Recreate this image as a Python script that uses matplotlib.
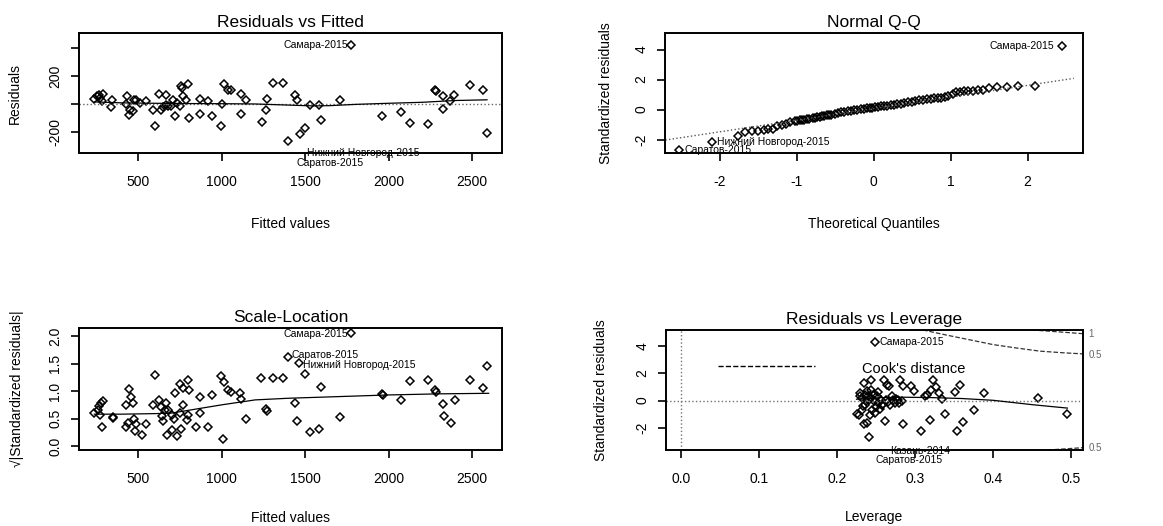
import matplotlib
matplotlib.use("Agg")
import matplotlib.pyplot as plt

plt.rcParams['font.family'] = ['Liberation Sans', 'DejaVu Sans']
plt.rcParams['axes.unicode_minus'] = False

# Residuals vs Fitted
fitted1 = [236, 254, 264, 270, 280, 286, 344, 338, 430, 426, 446, 450, 466, 476, 486,
           510, 544, 586, 602, 622, 636, 650, 664, 666, 680, 694, 710, 718, 730, 750,
           754, 764, 770, 786, 798, 806, 870, 870, 920, 942, 996, 1000, 1016, 1040, 1056,
           1114, 1114, 1146, 1240, 1264, 1274, 1310, 1370, 1400, 1436, 1450, 1466, 1496,
           1530, 1584, 1596, 1706, 1774, 1960, 2076, 2130, 2238, 2280, 2282, 2326, 2326,
           2370, 2394, 2486, 2564, 2590]
resid1 = [38, 55, 62, 43, 19, 72, 31, -22, 55, 0, -77, -41, -53, 26, 31,
          7, 24, -46, -158, 72, -41, -22, 67, -5, -17, -12, 31, -84, 7, -17,
          127, 115, 55, 31, 144, -101, 38, -72, 19, -84, -161, 2, 144, 103, 98,
          72, -72, 31, -132, -41, 38, 151, 151, -264, 67, 26, -214, -173,
          -10, -7, -118, 31, 422, -84, -60, -137, -144, 103, 96, 55, -34,
          24, 62, 139, 103, -209]
smooth1_x = [236, 400, 600, 800, 1000, 1200, 1400, 1550, 1650, 1800, 2000, 2200, 2400, 2590]
smooth1_y = [15, 8, 5, 3, 2, 0, -8, -14, -12, -3, 5, 12, 25, 30]

# Normal Q-Q
qq_theor = [-2.53, -2.10, -1.76, -1.67, -1.58, -1.50, -1.43, -1.37, -1.31, -1.25,
            -1.19, -1.14, -1.08, -1.02, -0.99, -0.96, -0.93, -0.90, -0.87, -0.84,
            -0.79, -0.76, -0.73, -0.70, -0.67, -0.64, -0.61, -0.58, -0.55, -0.50,
            -0.46, -0.42, -0.38, -0.33, -0.29, -0.25, -0.21, -0.17, -0.13, -0.09,
            -0.05, -0.02, 0.02, 0.06, 0.10, 0.14, 0.18, 0.22, 0.26, 0.30,
            0.35, 0.40, 0.45, 0.50, 0.54, 0.59, 0.64, 0.69, 0.74, 0.79,
            0.83, 0.88, 0.93, 0.97, 1.03, 1.07, 1.12, 1.17, 1.23, 1.29,
            1.35, 1.42, 1.50, 1.60, 1.73, 1.88, 2.09, 2.45]
qq_sample = [-2.68, -2.15, -1.73, -1.51, -1.44, -1.40, -1.33, -1.29, -1.27, -1.11,
             -1.00, -0.93, -0.84, -0.78, -0.74, -0.71, -0.69, -0.67, -0.64, -0.62,
             -0.58, -0.55, -0.51, -0.48, -0.44, -0.41, -0.38, -0.35, -0.33, -0.29,
             -0.24, -0.18, -0.14, -0.11, -0.07, -0.04, 0.0, 0.03, 0.06, 0.08,
             0.10, 0.12, 0.15, 0.18, 0.22, 0.25, 0.27, 0.30, 0.33, 0.36,
             0.40, 0.44, 0.48, 0.52, 0.58, 0.62, 0.66, 0.69, 0.71, 0.74,
             0.76, 0.79, 0.82, 0.88, 1.05, 1.14, 1.19, 1.22, 1.24, 1.27,
             1.29, 1.33, 1.42, 1.50, 1.51, 1.56, 1.60, 4.22]
qqline_x = [-2.8, 2.6]
qqline_y = [-2.1, 2.08]

# Scale-Location
fitted3 = [236, 256, 264, 276, 290, 270, 284, 346, 350, 426, 446, 454, 466, 424, 440,
           474, 486, 482, 520, 546, 586, 602, 622, 636, 644, 650, 660, 666, 680, 670,
           700, 704, 716, 720, 734, 750, 752, 756, 766, 770, 794, 800, 800, 806, 846,
           870, 870, 920, 942, 994, 1006, 1016, 1040, 1056, 1110, 1118, 1146, 1234,
           1264, 1274, 1310, 1370, 1396, 1436, 1450, 1460, 1496, 1530, 1584, 1596,
           1706, 1776, 1960, 1966, 2076, 2130, 2238, 2280, 2284, 2326, 2330, 2376,
           2396, 2490, 2566, 2590]
sqrt3 = [0.60, 0.66, 0.73, 0.78, 0.82, 0.57, 0.35, 0.52, 0.51, 0.75, 1.04, 0.90, 0.79, 0.34, 0.41,
         0.49, 0.40, 0.27, 0.20, 0.40, 0.74, 1.30, 0.83, 0.71, 0.55, 0.45, 0.66, 0.78, 0.66, 0.20,
         0.29, 0.57, 0.49, 0.96, 0.18, 0.60, 1.13, 0.31, 1.05, 0.75, 0.48, 1.20, 0.57, 1.02, 0.34,
         0.90, 0.60, 0.35, 0.93, 1.28, 0.12, 1.16, 1.02, 0.99, 0.96, 0.85, 0.49, 1.24,
         0.67, 0.64, 1.24, 1.24, 1.62, 0.79, 0.46, 1.51, 1.31, 0.26, 0.31, 1.07,
         0.52, 2.05, 0.95, 0.93, 0.83, 1.18, 1.20, 1.02, 0.99, 0.77, 0.55, 0.41,
         0.83, 1.21, 1.05, 1.46]
smooth3_x = [236, 400, 600, 700, 800, 1000, 1200, 1400, 1700, 2000, 2300, 2600]
smooth3_y = [0.58, 0.58, 0.59, 0.60, 0.65, 0.75, 0.84, 0.87, 0.90, 0.93, 0.95, 0.96]

# Residuals vs Leverage
lev4 = [0.248, 0.241, 0.234, 0.239, 0.228, 0.232, 0.242, 0.245, 0.249,
        0.234, 0.244, 0.230, 0.232, 0.236, 0.238, 0.243, 0.247, 0.251, 0.253, 0.257,
        0.256, 0.253, 0.247, 0.241, 0.236, 0.260, 0.264, 0.267, 0.262, 0.263, 0.270,
        0.272, 0.268, 0.274, 0.278, 0.283, 0.281, 0.284, 0.284, 0.295, 0.298,
        0.308, 0.313, 0.315, 0.319, 0.320, 0.323, 0.327, 0.331, 0.334, 0.338,
        0.351, 0.354, 0.357, 0.361, 0.375, 0.388, 0.457, 0.495,
        0.226, 0.229, 0.233, 0.237, 0.240, 0.244, 0.250, 0.255, 0.258, 0.265, 0.276, 0.280]
std4 = [4.32, -2.67, -1.75, -1.63, -1.09, -0.66, -1.02, -0.66, -0.90,
        1.29, 1.48, 0.56, 0.19, 0.44, 0.68, 0.80, 0.51, 0.32, -0.17, -0.29,
        0.07, 0.61, -0.05, 0.07, -0.29, 1.53, 1.17, 1.04, -1.46, 0.07, 0.32,
        0.07, -0.29, -0.17, 0.07, -0.05, 1.53, 1.09, -1.75, 1.04, 0.73,
        -2.23, 0.32, 0.44, -1.43, 0.80, 1.53, 1.00, 0.56, 0.12, -0.95,
        0.61, -2.23, 1.17, -1.55, -0.66, 0.56, 0.19, -0.95,
        -1.0, 0.3, -0.4, 0.0, 0.35, 0.2, -0.5, -0.6, -0.35, -0.1, 0.15, -0.2]
smooth4_x = [0.225, 0.25, 0.28, 0.32, 0.36, 0.40, 0.45, 0.495]
smooth4_y = [0.10, 0.20, 0.25, 0.22, 0.15, 0.02, -0.30, -0.55]
cook05_x = [0.31, 0.34, 0.37, 0.40, 0.43, 0.46, 0.49, 0.515]
cook05_y = [5.17, 4.80, 4.45, 4.10, 3.85, 3.62, 3.50, 3.42]
cook1_x = [0.45, 0.48, 0.515]
cook1_y = [5.17, 5.05, 4.90]
cook05_low_x = [0.47, 0.515]
cook05_low_y = [-3.62, -3.45]

W, H = 1163, 526
fig = plt.figure(figsize=(W / 100, H / 100), dpi=100)


def make_ax(x0, y0, x1, y1):
    return fig.add_axes([x0 / W, 1 - y1 / H, (x1 - x0) / W, (y1 - y0) / H])


def style(ax, title, xlabel, ylabel, ylab_x, xlab_y=-0.53):
    for s in ax.spines.values():
        s.set_linewidth(1.4)
        s.set_color("black")
    ax.tick_params(direction="out", length=6, width=1.2, labelsize=10, colors="black")
    ax.tick_params(axis="x", pad=10)
    ax.tick_params(axis="y", pad=6)
    for lab in ax.get_yticklabels():
        lab.set_rotation(90)
        lab.set_va("center")
    ax.set_title(title, fontsize=12.5, pad=4)
    ax.set_xlabel(xlabel, fontsize=10)
    ax.set_ylabel(ylabel, fontsize=10)
    ax.xaxis.set_label_coords(0.5, xlab_y)
    ax.yaxis.set_label_coords(ylab_x, 0.5)


mk = dict(linestyle="none", marker="D", markersize=4.2, markerfacecolor="none",
          markeredgecolor="black", markeredgewidth=1.1)
lab = dict(fontsize=7.5, color="black")

# --- Residuals vs Fitted ---
ax1 = make_ax(79, 33, 502, 153)
ax1.plot(fitted1, resid1, **mk)
ax1.axhline(0, color="0.4", linestyle=":", linewidth=1)
ax1.plot(smooth1_x, smooth1_y, color="black", linewidth=0.9)
ax1.set_xlim(144, 2680)
ax1.set_ylim(-353, 511)
ax1.set_xticks([500, 1000, 1500, 2000, 2500])
ax1.set_yticks([-200, 0, 200, 400])
ax1.set_yticklabels(["-200", "", "200", ""])
style(ax1, "Residuals vs Fitted", "Fitted values", "Residuals", -0.135)
ax1.text(1755, 422, "Самара-2015", ha="right", va="center", **lab)
ax1.text(1850, -350, "Нижний Новгород-2015", ha="center", va="center", clip_on=False, **lab)
ax1.text(1650, -422, "Саратов-2015", ha="center", va="center", clip_on=False, **lab)

# --- Normal Q-Q ---
ax2 = make_ax(665, 33, 1083, 153)
ax2.plot(qq_theor, qq_sample, **mk)
ax2.plot(qqline_x, qqline_y, color="0.35", linestyle=":", linewidth=1)
ax2.set_xlim(-2.71, 2.72)
ax2.set_ylim(-2.89, 5.1)
ax2.set_xticks([-2, -1, 0, 1, 2])
ax2.set_yticks([-2, 0, 2, 4])
style(ax2, "Normal Q-Q", "Theoretical Quantiles", "Standardized residuals", -0.125)
ax2.text(2.35, 4.22, "Самара-2015", ha="right", va="center", **lab)
ax2.text(-2.04, -2.18, "Нижний Новгород-2015", ha="left", va="center", **lab)
ax2.text(-2.46, -2.71, "Саратов-2015", ha="left", va="center", clip_on=False, **lab)

# --- Scale-Location ---
ax3 = make_ax(79, 328, 502, 450)
ax3.plot(fitted3, sqrt3, **mk)
ax3.plot(smooth3_x, smooth3_y, color="black", linewidth=0.9)
ax3.set_xlim(144, 2680)
ax3.set_ylim(-0.073, 2.15)
ax3.set_xticks([500, 1000, 1500, 2000, 2500])
ax3.set_yticks([0.0, 0.5, 1.0, 1.5, 2.0])
ax3.set_yticklabels(["0.0", "0.5", "1.0", "1.5", "2.0"])
style(ax3, "Scale-Location", "Fitted values", "√|Standardized residuals|", -0.13, -0.5)
ax3.text(1757, 2.04, "Самара-2015", ha="right", va="center", **lab)
ax3.text(1420, 1.66, "Саратов-2015", ha="left", va="center", **lab)
ax3.text(1484, 1.48, "Нижний Новгород-2015", ha="left", va="center", **lab)

# --- Residuals vs Leverage ---
ax4 = make_ax(666, 330, 1083, 450)
ax4.plot(lev4, std4, **mk)
ax4.axhline(0, color="0.45", linestyle=":", linewidth=1)
ax4.axvline(0, color="0.45", linestyle=":", linewidth=1)
ax4.plot(smooth4_x, smooth4_y, color="black", linewidth=0.9)
ax4.plot(cook05_x, cook05_y, color="0.2", linestyle="--", linewidth=0.9)
ax4.plot(cook1_x, cook1_y, color="0.2", linestyle="--", linewidth=0.9)
ax4.plot(cook05_low_x, cook05_low_y, color="0.2", linestyle="--", linewidth=0.9, clip_on=False)
ax4.set_xlim(-0.019, 0.515)
ax4.set_ylim(-3.62, 5.17)
ax4.set_xticks([0.0, 0.1, 0.2, 0.3, 0.4, 0.5])
ax4.set_yticks([-2, 0, 2, 4])
style(ax4, "Residuals vs Leverage", "Leverage", "Standardized residuals", -0.14, -0.5)
ax4.plot([0.125, 0.358], [0.696, 0.696], transform=ax4.transAxes, color="black",
         linestyle="--", linewidth=1)
ax4.text(0.594, 0.675, "Cook's distance", transform=ax4.transAxes, ha="center",
         va="center", fontsize=10.5)
ax4.text(0.255, 4.32, "Самара-2015", ha="left", va="center", **lab)
ax4.text(0.307, -3.70, "Казань-2014", ha="center", va="center", clip_on=False, **lab)
ax4.text(0.292, -4.38, "Саратов-2015", ha="center", va="center", clip_on=False, **lab)
ax4.text(0.522, 4.9, "1", ha="left", va="center", fontsize=7, color="0.4", clip_on=False)
ax4.text(0.522, 3.35, "0.5", ha="left", va="center", fontsize=7, color="0.4", clip_on=False)
ax4.text(0.522, -3.5, "0.5", ha="left", va="center", fontsize=7, color="0.4", clip_on=False)

fig.savefig("out.png", dpi=100, facecolor="white")
